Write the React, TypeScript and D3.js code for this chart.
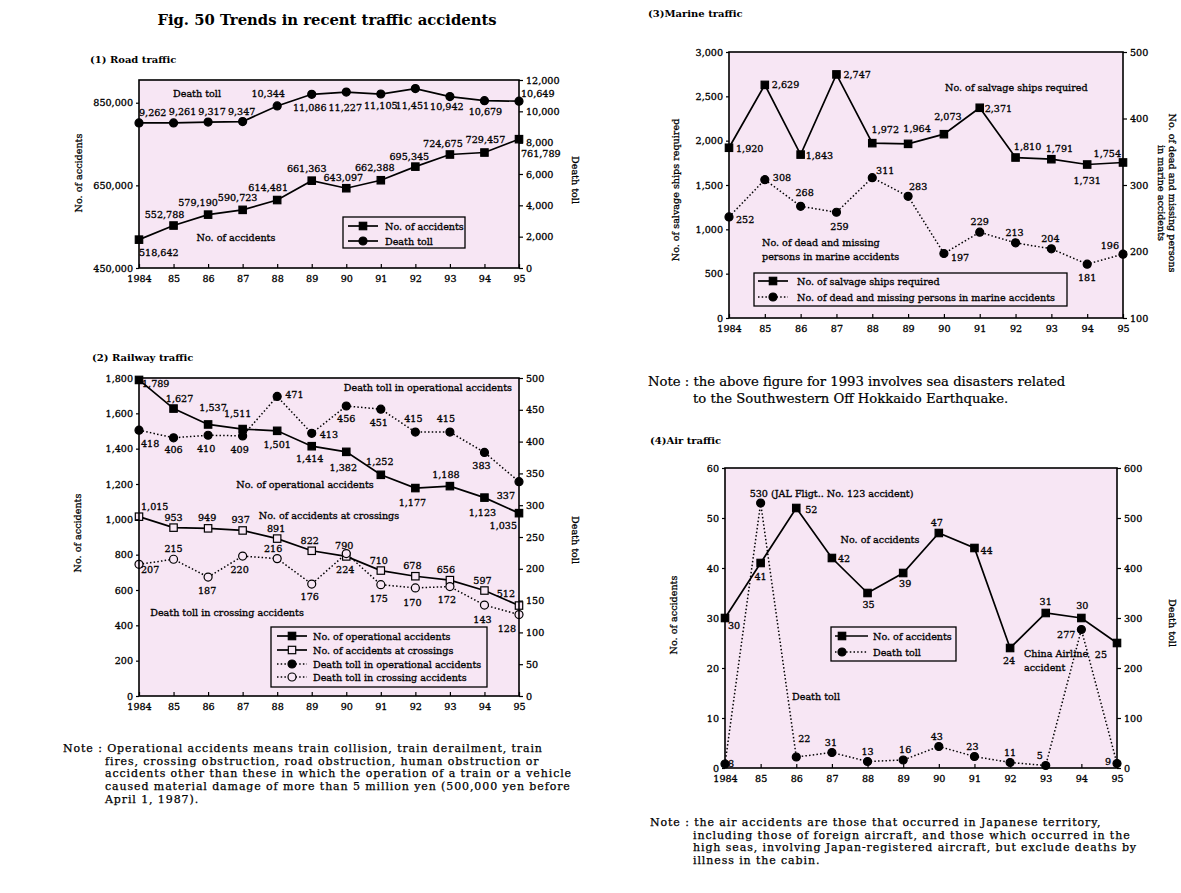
import { useEffect, useRef } from 'react';
import * as d3 from 'd3';

const FONT = '"DejaVu Serif", "Liberation Serif", serif';
const BG = '#f7e6f4';
const FS = 9.6;

const years = ['1984', '85', '86', '87', '88', '89', '90', '91', '92', '93', '94', '95'];

// (1) road traffic
const roadAccidents = [518642, 552788, 579190, 590723, 614481, 661363, 643097, 662388, 695345, 724675, 729457, 761789];
const roadDeaths = [9262, 9261, 9317, 9347, 10344, 11086, 11227, 11105, 11451, 10942, 10679, 10649];

// (2) railway traffic
const railOperational = [1789, 1627, 1537, 1511, 1501, 1414, 1382, 1252, 1177, 1188, 1123, 1035];
const railCrossing = [1015, 953, 949, 937, 891, 822, 790, 710, 678, 656, 597, 512];
const railOpDeaths = [418, 406, 410, 409, 471, 413, 456, 451, 415, 415, 383, 337];
const railCrossDeaths = [207, 215, 187, 220, 216, 176, 224, 175, 170, 172, 143, 128];

// (3) marine traffic
const marineSalvage = [1920, 2629, 1843, 2747, 1972, 1964, 2073, 2371, 1810, 1791, 1731, 1754];
const marineDead = [252, 308, 268, 259, 311, 283, 197, 229, 213, 204, 181, 196];

// (4) air traffic
const airAccidents = [30, 41, 52, 42, 35, 39, 47, 44, 24, 31, 30, 25];
const airDeaths = [8, 530, 22, 31, 13, 16, 43, 23, 11, 5, 277, 9];
const jalNote = ' (JAL Fligt.. No. 123 accident)';

type Anchor = 'start' | 'middle' | 'end';
type Off = [number, number, Anchor];
const S: Anchor = 'start';
const M: Anchor = 'middle';
const E: Anchor = 'end';

// label placement (dx, dy from the point, text-anchor)
const roadAccOff: Off[] = [[0, 16, S], [-9, -8, M], [-10, -9, M], [-5, -9, M], [-9, -9, M], [-5, -9, M], [-3, -7, M], [-6, -9, M], [-6, -7, M], [-7, -8, M], [1, -10, M], [2, 18, S]];
const roadDeathOff: Off[] = [[0, -7, S], [9, -8, M], [4, -7, M], [-1, -7, M], [-9, -9, M], [-2, 17, M], [-1, 19, M], [0, 15, M], [-3, 20, M], [-3, 13, M], [1, 14, M], [2, -4, S]];

const railOpOff: Off[] = [[3, 7, S], [6, -7, M], [5, -13, M], [-5, -12, M], [0, 17, M], [-2, 16, M], [-3, 19, M], [-1, -10, M], [-3, 18, M], [-4, -8, M], [-2, 18, M], [-2, 16, E]];
const railCrossOff: Off[] = [[2, -7, S], [0, -7, M], [-1, -7, M], [-2, -7, M], [-1, -7, M], [-2, -7, M], [-2, -7, M], [-2, -7, M], [-3, -7, M], [-4, -7, M], [-2, -7, M], [-4, -9, E]];
const railOpDeathOff: Off[] = [[2, 17, S], [0, 15, M], [-2, 17, M], [-3, 17, M], [8, 2, S], [8, 5, S], [0, 16, M], [-2, 17, M], [-2, -10, M], [-4, -10, M], [-3, 17, M], [-4, 17, E]];
const railCrossDeathOff: Off[] = [[2, 9, S], [0, -7, M], [-1, 17, M], [-3, 17, M], [-4, -7, M], [-2, 16, M], [-1, 19, M], [-2, 17, M], [-3, 18, M], [-3, 16, M], [-2, 18, M], [-3, 17, E]];

const marineSalvageOff: Off[] = [[7, 4, S], [7, 3, S], [5, 4, S], [7, 4, S], [13, -10, M], [9, -12, M], [4, -14, M], [5, 4, S], [12, -8, M], [8, -7, M], [0, 19, M], [-2, -5, E]];
const marineDeadOff: Off[] = [[7, 6, S], [8, 1, S], [4, -10, M], [3, 18, M], [13, -4, M], [10, -6, M], [7, 8, S], [0, -7, M], [-1, -7, M], [-1, -7, M], [0, 17, M], [-4, -5, E]];

const airAccOff: Off[] = [[3, 11, S], [0, 17, M], [9, 5, S], [6, 4, S], [1, 15, M], [2, 14, M], [-2, -7, M], [6, 6, S], [-1, 16, M], [0, -8, M], [1, -9, M], [-10, 15, E]];
const airDeathOff: Off[] = [[3, 3, S], [-11, -6, S], [2, -15, S], [-1, -7, M], [0, -7, M], [2, -7, M], [-2, -7, M], [-2, -7, M], [0, -7, M], [-6, -7, M], [-6, 8, E], [-6, 1, E]];

const fmt = d3.format(',');

type Series = {
  values: number[];
  axis: 'left' | 'right';
  marker: 'square' | 'circle';
  open?: boolean;
  dotted?: boolean;
  offsets: Off[];
  text?: (v: number, i: number) => string;
};

type AxisCfg = { domain: [number, number]; ticks: number[] };
type TextItem = { x: number; y: number; text: string; anchor?: Anchor };
type LegendCfg = {
  x: number; y: number; w: number; h: number;
  sample: [number, number, number];
  textX: number;
  rows: { y: number; series: number; label: string }[];
};

type PanelProps = {
  left: number; right: number; top: number; bottom: number;
  yLeft: AxisCfg; yRight: AxisCfg;
  series: Series[];
  notes: TextItem[];
  legend: LegendCfg;
  leftTitle: { x: number; y: number; lines: string[] };
  rightTitle: { x: number; y: number; lines: string[] };
};

// heavier look of the printed labels without widening them
const ink = { stroke: '#000', strokeWidth: 0.3 };

function AxisG({ axis, transform }: { axis: any; transform: string }) {
  const ref = useRef<SVGGElement>(null);
  useEffect(() => {
    if (!ref.current) return;
    const g = d3.select(ref.current);
    g.selectAll('*').remove();
    g.call(axis);
    g.attr('font-family', FONT).attr('font-size', FS);
    g.select('.domain').remove();
    g.selectAll('line').attr('stroke', '#000').attr('stroke-width', 1.2);
    g.selectAll('text').attr('fill', '#000').attr('stroke', '#000').attr('stroke-width', 0.3);
  });
  return <g ref={ref} transform={transform} />;
}

function Marker({ x, y, kind, open }: { x: number; y: number; kind: 'square' | 'circle'; open?: boolean }) {
  const fill = open ? BG : '#000';
  if (kind === 'square') {
    return <rect x={x - 3.7} y={y - 3.7} width={7.4} height={7.4} fill={fill} stroke="#000" strokeWidth={1.2} />;
  }
  return <circle cx={x} cy={y} r={4} fill={fill} stroke="#000" strokeWidth={1.2} />;
}

function Panel(p: PanelProps) {
  const x = d3.scalePoint<string>().domain(years).range([p.left, p.right]);
  const yl = d3.scaleLinear().domain(p.yLeft.domain).range([p.bottom, p.top]);
  const yr = d3.scaleLinear().domain(p.yRight.domain).range([p.bottom, p.top]);
  const line = (s: Series) =>
    d3
      .line<number>()
      .x((_, i) => x(years[i]) ?? 0)
      .y((v) => (s.axis === 'left' ? yl(v) : yr(v)))(s.values) ?? '';

  const lg = p.legend;
  return (
    <g>
      <rect x={p.left} y={p.top} width={p.right - p.left} height={p.bottom - p.top} fill={BG} />
      {p.series.map((s, si) => (
        <path
          key={'l' + si}
          d={line(s)}
          fill="none"
          stroke="#000"
          strokeWidth={s.dotted ? 1.5 : 1.7}
          strokeDasharray={s.dotted ? '1.5 2.2' : undefined}
        />
      ))}
      {p.series.map((s, si) =>
        s.values.map((v, i) => {
          const px = x(years[i]) ?? 0;
          const py = s.axis === 'left' ? yl(v) : yr(v);
          const [dx, dy, anchor] = s.offsets[i];
          return (
            <g key={`m${si}-${i}`}>
              <Marker x={px} y={py} kind={s.marker} open={s.open} />
              <text x={px + dx} y={py + dy} textAnchor={anchor} fontSize={FS} {...ink}>
                {s.text ? s.text(v, i) : fmt(v)}
              </text>
            </g>
          );
        })
      )}
      {p.notes.map((n, i) => (
        <text key={'n' + i} x={n.x} y={n.y} textAnchor={n.anchor ?? 'start'} fontSize={FS} {...ink}>
          {n.text}
        </text>
      ))}
      <rect x={lg.x} y={lg.y} width={lg.w} height={lg.h} fill={BG} stroke="#000" strokeWidth={1.3} />
      {lg.rows.map((r, i) => {
        const s = p.series[r.series];
        return (
          <g key={'lg' + i}>
            <line
              x1={lg.sample[0]}
              x2={lg.sample[1]}
              y1={r.y}
              y2={r.y}
              stroke="#000"
              strokeWidth={s.dotted ? 1.5 : 1.7}
              strokeDasharray={s.dotted ? '1.5 2.2' : undefined}
            />
            <Marker x={lg.sample[2]} y={r.y} kind={s.marker} open={s.open} />
            <text x={lg.textX} y={r.y + 3.5} fontSize={FS} {...ink}>
              {r.label}
            </text>
          </g>
        );
      })}
      <rect x={p.left} y={p.top} width={p.right - p.left} height={p.bottom - p.top} fill="none" stroke="#000" strokeWidth={1.6} />
      <AxisG axis={d3.axisBottom(x).tickSize(-4).tickPadding(7)} transform={`translate(0,${p.bottom})`} />
      <AxisG axis={d3.axisLeft(yl).tickValues(p.yLeft.ticks).tickFormat((d: any) => fmt(d)).tickSize(3).tickPadding(3)} transform={`translate(${p.left},0)`} />
      <AxisG axis={d3.axisRight(yr).tickValues(p.yRight.ticks).tickFormat((d: any) => fmt(d)).tickSize(4).tickPadding(3)} transform={`translate(${p.right},0)`} />
      <text transform={`translate(${p.leftTitle.x},${p.leftTitle.y}) rotate(-90)`} textAnchor="middle" fontSize={FS} {...ink}>
        {p.leftTitle.lines.map((l, i) => (
          <tspan key={i} x={0} dy={i === 0 ? 3.5 : 11}>
            {l}
          </tspan>
        ))}
      </text>
      <text transform={`translate(${p.rightTitle.x},${p.rightTitle.y}) rotate(90)`} textAnchor="middle" fontSize={FS} {...ink}>
        {p.rightTitle.lines.map((l, i) => (
          <tspan key={i} x={0} dy={i === 0 ? 3.5 : 11}>
            {l}
          </tspan>
        ))}
      </text>
    </g>
  );
}

// the notes are set tight, as printed: a smaller size opened up with letter spacing
const noteStyle = { fontSize: 11, letterSpacing: 0.9, stroke: '#000', strokeWidth: 0.25 };

export default function App() {
  return (
    <svg
      width={1181}
      height={893}
      style={{ position: 'absolute', left: 0, top: 0, background: '#fff' }}
      fontFamily={FONT}
      fill="#000"
    >
      <rect width={1181} height={893} fill="#fff" />
      <text x={327} y={25} textAnchor="middle" fontSize={14.8} fontWeight="bold">
        Fig. 50 Trends in recent traffic accidents
      </text>
      <text x={90} y={63} fontSize={10} fontWeight="bold">(1) Road traffic</text>
      <text x={92} y={361} fontSize={10} fontWeight="bold">(2) Railway traffic</text>
      <text x={648} y={17} fontSize={10} fontWeight="bold">(3)Marine traffic</text>
      <text x={650} y={444} fontSize={10} fontWeight="bold">(4)Air traffic</text>

      <Panel
        left={139} right={519} top={80} bottom={268}
        yLeft={{ domain: [450000, 905000], ticks: [450000, 650000, 850000] }}
        yRight={{ domain: [0, 12000], ticks: d3.range(0, 12001, 2000) }}
        series={[
          { values: roadAccidents, axis: 'left', marker: 'square', offsets: roadAccOff },
          { values: roadDeaths, axis: 'right', marker: 'circle', offsets: roadDeathOff },
        ]}
        notes={[
          { x: 197, y: 97, text: 'Death toll', anchor: 'middle' },
          { x: 236, y: 241, text: 'No. of accidents', anchor: 'middle' },
        ]}
        legend={{
          x: 343, y: 217, w: 122, h: 31, sample: [348, 378, 363], textX: 385,
          rows: [
            { y: 226, series: 0, label: 'No. of accidents' },
            { y: 241, series: 1, label: 'Death toll' },
          ],
        }}
        leftTitle={{ x: 78, y: 173, lines: ['No. of accidents'] }}
        rightTitle={{ x: 575, y: 180, lines: ['Death toll'] }}
      />

      <Panel
        left={139} right={519} top={378} bottom={696}
        yLeft={{ domain: [0, 1800], ticks: d3.range(0, 1801, 200) }}
        yRight={{ domain: [0, 500], ticks: d3.range(0, 501, 50) }}
        series={[
          { values: railOperational, axis: 'left', marker: 'square', offsets: railOpOff },
          { values: railCrossing, axis: 'left', marker: 'square', open: true, offsets: railCrossOff },
          { values: railOpDeaths, axis: 'right', marker: 'circle', dotted: true, offsets: railOpDeathOff },
          { values: railCrossDeaths, axis: 'right', marker: 'circle', open: true, dotted: true, offsets: railCrossDeathOff },
        ]}
        notes={[
          { x: 512, y: 391, text: 'Death toll in operational accidents', anchor: 'end' },
          { x: 305, y: 488, text: 'No. of operational accidents', anchor: 'middle' },
          { x: 329, y: 519, text: 'No. of accidents at crossings', anchor: 'middle' },
          { x: 227, y: 616, text: 'Death toll in crossing accidents', anchor: 'middle' },
        ]}
        legend={{
          x: 271, y: 627, w: 216, h: 60, sample: [277, 307, 292], textX: 313,
          rows: [
            { y: 636, series: 0, label: 'No. of operational accidents' },
            { y: 650, series: 1, label: 'No. of accidents at crossings' },
            { y: 664, series: 2, label: 'Death toll in operational accidents' },
            { y: 677, series: 3, label: 'Death toll in crossing accidents' },
          ],
        }}
        leftTitle={{ x: 77, y: 533, lines: ['No. of accidents'] }}
        rightTitle={{ x: 575, y: 540, lines: ['Death toll'] }}
      />

      <Panel
        left={729} right={1123} top={52} bottom={318}
        yLeft={{ domain: [0, 3000], ticks: d3.range(0, 3001, 500) }}
        yRight={{ domain: [100, 500], ticks: d3.range(100, 501, 100) }}
        series={[
          { values: marineSalvage, axis: 'left', marker: 'square', offsets: marineSalvageOff },
          { values: marineDead, axis: 'right', marker: 'circle', dotted: true, offsets: marineDeadOff },
        ]}
        notes={[
          { x: 945, y: 91, text: 'No. of salvage ships required' },
          { x: 762, y: 246, text: 'No. of dead and missing' },
          { x: 762, y: 260, text: 'persons in marine accidents' },
        ]}
        legend={{
          x: 754, y: 273, w: 313, h: 33, sample: [758, 788, 773], textX: 797,
          rows: [
            { y: 281, series: 0, label: 'No. of salvage ships required' },
            { y: 297, series: 1, label: 'No. of dead and missing persons in marine accidents' },
          ],
        }}
        leftTitle={{ x: 675, y: 190, lines: ['No. of salvage ships required'] }}
        rightTitle={{ x: 1172, y: 193, lines: ['No. of dead and missing persons', 'in marine accidents'] }}
      />

      <Panel
        left={725} right={1117} top={468} bottom={768}
        yLeft={{ domain: [0, 60], ticks: d3.range(0, 61, 10) }}
        yRight={{ domain: [0, 600], ticks: d3.range(0, 601, 100) }}
        series={[
          { values: airAccidents, axis: 'left', marker: 'square', offsets: airAccOff },
          {
            values: airDeaths, axis: 'right', marker: 'circle', dotted: true, offsets: airDeathOff,
            text: (v, i) => (i === 1 ? fmt(v) + jalNote : fmt(v)),
          },
        ]}
        notes={[
          { x: 880, y: 543, text: 'No. of accidents', anchor: 'middle' },
          { x: 816, y: 700, text: 'Death toll', anchor: 'middle' },
          { x: 1024, y: 657, text: 'China Airline' },
          { x: 1024, y: 671, text: 'accident' },
        ]}
        legend={{
          x: 831, y: 627, w: 125, h: 34, sample: [835, 868, 842], textX: 873,
          rows: [
            { y: 636, series: 0, label: 'No. of accidents' },
            { y: 652, series: 1, label: 'Death toll' },
          ],
        }}
        leftTitle={{ x: 673, y: 615, lines: ['No. of accidents'] }}
        rightTitle={{ x: 1172, y: 623, lines: ['Death toll'] }}
      />

      <text {...noteStyle}>
        <tspan x={63} y={752}>Note : Operational accidents means train collision, train derailment, train</tspan>
        <tspan x={105} y={764.7}>fires, crossing obstruction, road obstruction, human obstruction or</tspan>
        <tspan x={105} y={777.4}>accidents other than these in which the operation of a train or a vehicle</tspan>
        <tspan x={105} y={790.1}>caused material damage of more than 5 million yen (500,000 yen before</tspan>
        <tspan x={105} y={802.8}>April 1, 1987).</tspan>
      </text>
      <text fontSize={13.2} stroke="#000" strokeWidth={0.2}>
        <tspan x={648} y={386}>Note : the above figure for 1993 involves sea disasters related</tspan>
        <tspan x={693} y={403}>to the Southwestern Off Hokkaido Earthquake.</tspan>
      </text>
      <text {...noteStyle}>
        <tspan x={650} y={826}>Note : the air accidents are those that occurred in Japanese territory,</tspan>
        <tspan x={693} y={838.5}>including those of foreign aircraft, and those which occurred in the</tspan>
        <tspan x={693} y={851}>high seas, involving Japan-registered aircraft, but exclude deaths by</tspan>
        <tspan x={693} y={863.5}>illness in the cabin.</tspan>
      </text>
    </svg>
  );
}
